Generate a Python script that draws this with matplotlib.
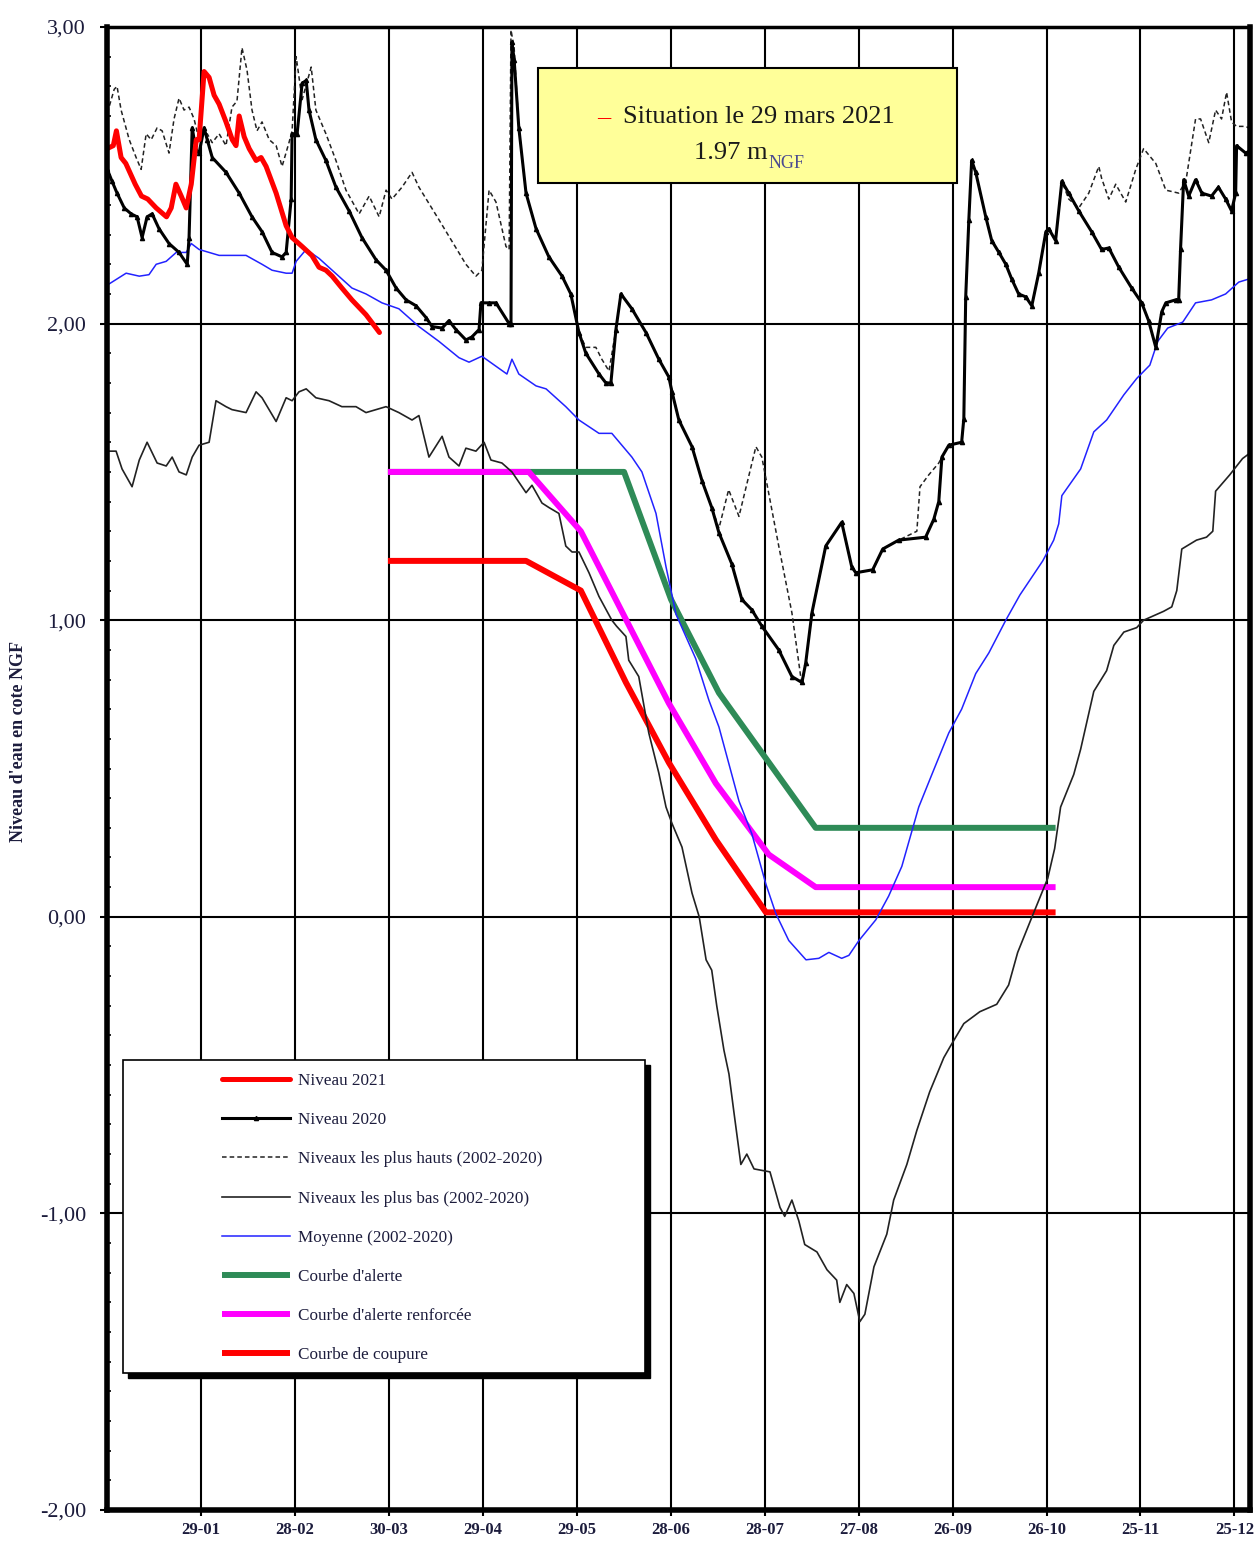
import numpy as np
import matplotlib.pyplot as plt
from matplotlib.patches import Rectangle
from matplotlib.ticker import MultipleLocator

plt.rcParams['font.family'] = ['Liberation Serif', 'DejaVu Serif']

# jour de l'annee (1 = 1er janvier) et niveau en m NGF
niv2021_jour = [-1, 1, 2, 3.5, 5, 8, 10, 12, 14.7, 18, 19.5, 21, 22.7, 24.3, 25.9, 27.5, 28.4,
                30, 31.6, 33.2, 34.8, 37, 39, 40.2, 41.2, 42.8, 44.4, 46.6, 48.2, 49.8, 53,
                56.2, 58.1, 61.3, 64.4, 66.7, 68.9, 70.9, 74, 77.2, 81.7, 86]
niv2021_val = [2.59, 2.60, 2.65, 2.56, 2.54, 2.47, 2.43, 2.42, 2.39, 2.36, 2.39, 2.47, 2.43, 2.39, 2.47, 2.62, 2.62,
               2.85, 2.83, 2.77, 2.74, 2.68, 2.62, 2.60, 2.70, 2.63, 2.59, 2.55, 2.56, 2.53, 2.44,
               2.33, 2.29, 2.26, 2.23, 2.19, 2.18, 2.16, 2.12, 2.08, 2.03, 1.97]

niv2020_jour = [-0.9, 0.6, 2.2, 4.5, 6.7, 8.6, 10.2, 11.8, 13.4, 15.6,
                18.8, 22.0, 24.6, 25.2, 26.2, 27.4, 28.4, 30.0, 31.0, 32.6,
                37.0, 41.2, 45.3, 48.5, 51.7, 54.9, 56.2, 57.8, 58.1, 59.7,
                61.3, 62.6, 63.5, 65.7, 68.9, 72.1, 76.3, 80.4, 84.9, 88.1,
                91.3, 94.5, 97.7, 100.9, 102.8, 106.0, 108.2, 110.4, 113.6, 115.5,
                117.8, 118.4, 121.0, 123.2, 127.4, 128.0, 128.3, 129.0, 130.5, 132.8,
                136.0, 140.1, 144.3, 147.1, 149.7, 151.9, 156.1, 158.3, 159.9, 161.5,
                163.1, 166.6, 171.1, 175.2, 178.4, 179.4, 181.6, 185.8, 189.0, 192.1,
                194.4, 198.5, 201.7, 204.9, 208.1, 213.5, 217.7, 220.9, 222.1, 224.1,
                228.5, 233.6, 236.8, 238.1, 243.5, 246.7, 251.8, 260.4, 263.0, 264.6,
                265.6, 267.8, 271.9, 272.6, 273.2, 274.2, 275.1, 276.4, 279.6, 281.5,
                283.8, 286.0, 287.9, 290.1, 292.4, 294.3, 296.5, 298.8, 299.7, 301.9,
                303.9, 306.1, 309.3, 313.4, 316.6, 318.9, 322.1, 326.2, 329.4, 331.6,
                333.9, 335.8, 337.1, 340.2, 341.2, 341.8, 342.8, 344.4, 346.6, 348.6,
                351.7, 353.9, 356.2, 358.1, 359.4, 359.7, 362.6, 363.5]
niv2020_val = [2.52, 2.48, 2.44, 2.39, 2.37, 2.36, 2.29, 2.36, 2.37, 2.32,
               2.27, 2.24, 2.20, 2.29, 2.66, 2.585, 2.575, 2.66, 2.62, 2.56,
               2.51, 2.44, 2.36, 2.31, 2.24, 2.225, 2.24, 2.42, 2.64, 2.64,
               2.81, 2.82, 2.72, 2.62, 2.55, 2.46, 2.38, 2.29, 2.215, 2.18,
               2.12, 2.08, 2.06, 2.02, 1.99, 1.985, 2.01, 1.98, 1.945, 1.955,
               1.98, 2.07, 2.07, 2.07, 2.00, 2.00, 2.95, 2.89, 2.66, 2.44,
               2.32, 2.225, 2.16, 2.10, 1.97, 1.90, 1.83, 1.80, 1.80, 1.98,
               2.10, 2.05, 1.97, 1.88, 1.82, 1.77, 1.675, 1.585, 1.47, 1.38,
               1.295, 1.19, 1.07, 1.035, 0.98, 0.90, 0.81, 0.79, 0.855, 1.025,
               1.25, 1.33, 1.18, 1.16, 1.17, 1.24, 1.27, 1.28, 1.34, 1.40,
               1.55, 1.59, 1.60, 1.68, 2.09, 2.35, 2.55, 2.51, 2.36, 2.28,
               2.24, 2.20, 2.15, 2.10, 2.09, 2.06, 2.17, 2.31, 2.32, 2.28,
               2.48, 2.44, 2.38, 2.31, 2.25, 2.255, 2.19, 2.12, 2.07, 2.01,
               1.92, 2.04, 2.07, 2.08, 2.08, 2.25, 2.485, 2.43, 2.485, 2.44,
               2.43, 2.46, 2.42, 2.38, 2.44, 2.60, 2.575, 2.58]

haut_jour = [-0.9, 1.3, 2.2, 3.5, 6.1, 8.3, 9.9, 11.5, 13.1, 15.0,
             16.6, 18.8, 20.4, 22.0, 23.6, 25.2, 26.8, 28.4, 29.4, 31.0,
             32.6, 34.8, 37.0, 38.9, 40.5, 42.1, 43.7, 45.3, 46.9, 48.5,
             50.8, 53.0, 54.9, 57.1, 58.1, 59.4, 61.3, 64.2, 65.7, 68.9,
             72.1, 75.3, 79.5, 82.7, 85.9, 88.1, 90.0, 93.2, 96.4, 98.6,
             105.0, 113.6, 116.8, 118.7, 121.0, 123.2, 126.4, 127.4, 128.0, 129.0,
             130.5, 132.8, 136.0, 140.1, 144.3, 147.1, 149.7, 151.9, 155.1, 157.0,
             159.3, 161.5, 163.1, 166.6, 171.1, 175.2, 178.4, 181.6, 185.8, 189.0,
             192.1, 194.4, 197.5, 200.8, 206.2, 208.1, 213.5, 217.7, 220.9, 222.1,
             224.1, 228.5, 233.6, 236.8, 238.1, 243.5, 246.7, 251.8, 257.6, 258.6,
             261.4, 264.6, 265.6, 267.8, 271.9, 272.6, 273.2, 274.2, 275.1, 276.4,
             279.6, 281.5, 283.8, 286.0, 287.9, 290.1, 292.4, 294.3, 296.5, 298.8,
             299.7, 301.9, 303.9, 306.1, 309.3, 312.5, 315.7, 316.6, 318.9, 321.1,
             324.3, 327.5, 330.0, 333.9, 337.1, 341.2, 343.5, 346.6, 348.2, 350.8,
             353.0, 354.9, 356.5, 358.1, 359.7, 362.6, 363.5]
haut_val = [2.71, 2.79, 2.80, 2.72, 2.62, 2.56, 2.52, 2.64, 2.62, 2.66,
            2.65, 2.575, 2.69, 2.76, 2.72, 2.73, 2.69, 2.62, 2.64, 2.64,
            2.61, 2.64, 2.60, 2.73, 2.75, 2.93, 2.855, 2.72, 2.65, 2.68,
            2.62, 2.60, 2.53, 2.61, 2.65, 2.90, 2.755, 2.865, 2.72, 2.64,
            2.55, 2.45, 2.37, 2.43, 2.36, 2.45, 2.42, 2.46, 2.51, 2.46,
            2.35, 2.20, 2.16, 2.18, 2.45, 2.41, 2.26, 2.25, 2.99, 2.93,
            2.66, 2.44, 2.32, 2.225, 2.16, 2.10, 1.97, 1.92, 1.92, 1.88,
            1.84, 1.98, 2.10, 2.05, 1.97, 1.88, 1.82, 1.675, 1.585, 1.47,
            1.38, 1.31, 1.44, 1.35, 1.585, 1.55, 1.25, 1.025, 0.78, 0.855,
            1.025, 1.25, 1.33, 1.18, 1.16, 1.17, 1.24, 1.27, 1.30, 1.45,
            1.49, 1.53, 1.55, 1.59, 1.60, 1.68, 2.09, 2.35, 2.55, 2.51,
            2.36, 2.28, 2.24, 2.20, 2.15, 2.10, 2.09, 2.06, 2.17, 2.31,
            2.32, 2.28, 2.48, 2.42, 2.39, 2.44, 2.53, 2.49, 2.42, 2.47,
            2.41, 2.52, 2.59, 2.54, 2.45, 2.44, 2.48, 2.69, 2.69, 2.61,
            2.72, 2.69, 2.78, 2.68, 2.665, 2.665, 2.66]

bas_jour = [-0.9, 1.9, 3.8, 7.0, 9.3, 11.8, 15.0, 17.9, 19.8, 22.0,
            24.3, 26.2, 28.4, 31.6, 33.8, 37.0, 38.9, 43.4, 46.6, 48.5,
            53.0, 56.2, 58.1, 60.3, 62.6, 65.7, 69.9, 74.0, 78.5, 81.7,
            84.9, 88.1, 92.2, 96.4, 98.6, 101.8, 106.0, 108.2, 111.4, 113.6,
            116.8, 119.4, 121.6, 125.1, 128.3, 132.8, 134.7, 137.9, 140.1, 143.3,
            145.5, 147.5, 149.7, 152.9, 156.1, 160.2, 161.7, 164.7, 165.6, 168.8,
            172.0, 175.2, 177.5, 179.4, 182.6, 185.8, 188.1, 190.3, 192.1, 193.7,
            196.0, 197.6, 199.2, 201.4, 203.3, 205.6, 210.7, 213.9, 215.4, 217.7,
            219.9, 221.8, 225.7, 228.9, 232.0, 233.0, 235.2, 237.5, 239.4, 241.0,
            243.9, 248.0, 250.2, 254.4, 257.6, 261.7, 266.2, 268.1, 272.6, 275.8,
            277.7, 283.1, 286.9, 289.8, 294.0, 299.4, 301.6, 303.5, 307.7, 309.9,
            314.1, 318.2, 320.5, 323.7, 327.8, 330.0, 336.4, 339.0, 340.6, 342.2,
            346.9, 350.1, 352.1, 353.0, 357.5, 361.6, 363.5]
bas_val = [1.57, 1.57, 1.51, 1.45, 1.54, 1.60, 1.53, 1.52, 1.55, 1.50,
           1.49, 1.55, 1.59, 1.60, 1.74, 1.72, 1.71, 1.70, 1.77, 1.75,
           1.67, 1.75, 1.74, 1.77, 1.78, 1.75, 1.74, 1.72, 1.72, 1.70,
           1.71, 1.72, 1.70, 1.675, 1.69, 1.55, 1.62, 1.55, 1.52, 1.58,
           1.57, 1.60, 1.54, 1.53, 1.50, 1.43, 1.455, 1.395, 1.38, 1.36,
           1.25, 1.23, 1.23, 1.16, 1.08, 1.00, 0.98, 0.945, 0.865, 0.81,
           0.62, 0.485, 0.37, 0.315, 0.235, 0.08, 0.00, -0.145, -0.18, -0.30,
           -0.45, -0.53, -0.66, -0.835, -0.80, -0.85, -0.86, -0.98, -1.01, -0.955,
           -1.025, -1.105, -1.13, -1.19, -1.225, -1.30, -1.24, -1.27, -1.365, -1.34,
           -1.18, -1.07, -0.955, -0.835, -0.72, -0.59, -0.475, -0.44, -0.36, -0.335,
           -0.32, -0.295, -0.23, -0.12, -0.01, 0.13, 0.23, 0.37, 0.48, 0.565,
           0.76, 0.83, 0.915, 0.96, 0.975, 1.00, 1.03, 1.045, 1.10, 1.24,
           1.27, 1.28, 1.30, 1.435, 1.49, 1.545, 1.56]

moy_jour = [-0.9, 0.6, 5.1, 9.3, 12.4, 14.7, 17.9, 21.1, 24.3, 25.9,
            28.4, 31.6, 34.8, 38.9, 43.4, 48.5, 51.7, 56.2, 58.1, 59.4,
            62.6, 66.7, 70.9, 77.2, 81.7, 86.8, 92.2, 98.6, 105.0, 111.4,
            114.6, 118.7, 126.7, 128.3, 130.5, 136.0, 139.2, 145.5, 149.7, 156.1,
            160.2, 166.6, 169.8, 174.3, 177.5, 180.7, 187.0, 191.2, 194.4, 200.8,
            204.9, 209.4, 212.6, 216.7, 222.2, 226.3, 229.5, 233.6, 235.9, 239.1,
            244.5, 248.6, 252.8, 258.2, 262.4, 267.8, 271.9, 276.4, 280.6, 286.0,
            290.5, 297.8, 301.3, 302.9, 303.9, 309.9, 314.1, 318.2, 323.7, 327.8,
            332.0, 334.5, 337.7, 342.5, 346.6, 351.7, 356.2, 360.4, 363.5]
moy_val = [2.13, 2.14, 2.17, 2.16, 2.165, 2.20, 2.21, 2.24, 2.24, 2.27,
           2.25, 2.24, 2.23, 2.23, 2.23, 2.20, 2.18, 2.17, 2.17, 2.21,
           2.25, 2.22, 2.18, 2.12, 2.10, 2.07, 2.05, 1.99, 1.94, 1.885,
           1.87, 1.89, 1.83, 1.88, 1.83, 1.79, 1.78, 1.72, 1.675, 1.63,
           1.63, 1.55, 1.50, 1.36, 1.18, 1.02, 0.87, 0.73, 0.64, 0.39,
           0.28, 0.11, 0.01, -0.08, -0.145, -0.14, -0.12, -0.14, -0.13, -0.08,
           -0.01, 0.07, 0.17, 0.37, 0.48, 0.62, 0.70, 0.82, 0.89, 1.00,
           1.085, 1.20, 1.27, 1.325, 1.42, 1.51, 1.635, 1.675, 1.76, 1.815,
           1.86, 1.94, 1.985, 2.005, 2.07, 2.08, 2.10, 2.14, 2.15]

alerte_jour = [88.7, 164.1, 179.1, 194.4, 225.3, 301.9]
alerte_val = [1.50, 1.50, 1.07, 0.755, 0.30, 0.30]
renforcee_jour = [88.7, 133.7, 150.3, 178.4, 193.4, 210.3, 225.3, 301.9]
renforcee_val = [1.50, 1.50, 1.30, 0.72, 0.45, 0.21, 0.10, 0.10]
coupure_jour = [88.7, 132.8, 150.3, 164.7, 178.4, 193.4, 209.4, 301.9]
coupure_val = [1.20, 1.20, 1.10, 0.79, 0.52, 0.26, 0.015, 0.015]

xtick_jours = [29, 59, 89, 119, 149, 179, 209, 239, 269, 299, 329, 359]
xtick_labels = ['29-01', '28-02', '30-03', '29-04', '29-05', '28-06',
                '28-07', '27-08', '26-09', '26-10', '25-11', '25-12']
ytick_vals = [-2, -1, 0, 1, 2, 3]
ytick_labels = ['-2,00', '-1,00', '0,00', '1,00', '2,00', '3,00']

fig = plt.figure(figsize=(12.59, 15.43), dpi=100)
ax = fig.add_axes([0.0850, 0.02139, 0.9079, 0.9611])

# courbes de gestion
l_al, = ax.plot(alerte_jour, alerte_val, color='#2E8B57', lw=4.3, solid_capstyle='butt', zorder=2,
                label="Courbe d'alerte")
l_re, = ax.plot(renforcee_jour, renforcee_val, color='#FF00FF', lw=4.3, solid_capstyle='butt', zorder=2,
                label="Courbe d'alerte renforcée")
l_co, = ax.plot(coupure_jour, coupure_val, color='#FF0000', lw=4.3, solid_capstyle='butt', zorder=2,
                label='Courbe de coupure')

# statistiques 2002-2020
l_bas, = ax.plot(bas_jour, bas_val, color='#222222', lw=1.2, zorder=3,
                 label='Niveaux les plus bas (2002-2020)')
l_haut, = ax.plot(haut_jour, haut_val, color='#222222', lw=1.1, ls=(0, (3, 2)), zorder=3,
                  label='Niveaux les plus hauts (2002-2020)')
l_moy, = ax.plot(moy_jour, moy_val, color='#2222FF', lw=1.1, zorder=3,
                 label='Moyenne (2002-2020)')

l_2020, = ax.plot(niv2020_jour, niv2020_val, color='black', lw=2.2, marker='^', ms=3, zorder=4,
                  label='Niveau 2020')
l_2021, = ax.plot(niv2021_jour, niv2021_val, color='#FF0000', lw=3.6, solid_capstyle='round', zorder=5,
                  label='Niveau 2021')

ax.set_xlim(-1, 364)
ax.set_ylim(-2, 3)
ax.set_xticks(xtick_jours)
ax.set_xticklabels(xtick_labels, fontsize=12, fontweight='bold', color='#1c1c3c')
ax.set_yticks(ytick_vals)
ax.set_yticklabels(ytick_labels, fontsize=16, color='#1c1c3c')
ax.yaxis.set_minor_locator(MultipleLocator(0.1))
ax.tick_params(axis='y', which='major', direction='out', length=5, width=1.5, pad=10)
ax.tick_params(axis='y', which='minor', direction='in', length=3, width=1.2)
ax.tick_params(axis='x', which='major', direction='out', length=4, width=1.5, pad=5)
ax.grid(True, which='major', color='black', lw=1.5)
ax.set_axisbelow(True)

for side, w in [('left', 4.0), ('bottom', 4.0), ('right', 4.0), ('top', 2.5)]:
    ax.spines[side].set_linewidth(w)
    ax.spines[side].set_zorder(10)

fig.text(19 / 1259, 1 - 742 / 1543, "Niveau d'eau en cote NGF", rotation=90,
         ha='center', va='center', fontsize=13, fontweight='bold', color='#1c1c3c')

# encadre jaune
ax.add_patch(Rectangle((0.3771, 0.8948), 0.3666, 0.0775, transform=ax.transAxes,
                       facecolor='#FFFF99', edgecolor='black', lw=1.5, zorder=7))
ax.text(0.4350, 0.9393, '–', transform=ax.transAxes, ha='center', va='center',
        fontsize=19, color='#FF0000', zorder=8)
ax.text(0.5700, 0.9393, 'Situation le 29 mars 2021', transform=ax.transAxes, ha='center',
        va='center', fontsize=19, color='#1a1a1a', zorder=8)
ax.text(0.5783, 0.9150, '1.97 m', transform=ax.transAxes, ha='right', va='center',
        fontsize=19, color='#1a1a1a', zorder=8)
ax.text(0.5783, 0.9083, 'NGF', transform=ax.transAxes, ha='left', va='center',
        fontsize=13, color='#4a4a90', zorder=8)

# cadre de legende avec ombre
ax.add_patch(Rectangle((0.0184, 0.0890), 0.4567, 0.2111, transform=ax.transAxes,
                       facecolor='black', edgecolor='black', lw=1, zorder=7))
ax.add_patch(Rectangle((0.0140, 0.0924), 0.4567, 0.2111, transform=ax.transAxes,
                       facecolor='white', edgecolor='black', lw=1.2, zorder=7))

handles = [l_2021, l_2020, l_haut, l_bas, l_moy, l_al, l_re, l_co]
leg = ax.legend(handles, [h.get_label() for h in handles], loc='upper left',
                bbox_to_anchor=(0.1006, 0.2948), frameon=False, fontsize=12.3,
                handlelength=4.0, handletextpad=0.42, labelspacing=1.36,
                borderpad=0, borderaxespad=0)
leg.set_zorder(9)
for t in leg.get_texts():
    t.set_color('#1c1c3c')

fig.savefig('out.png', dpi=100)
